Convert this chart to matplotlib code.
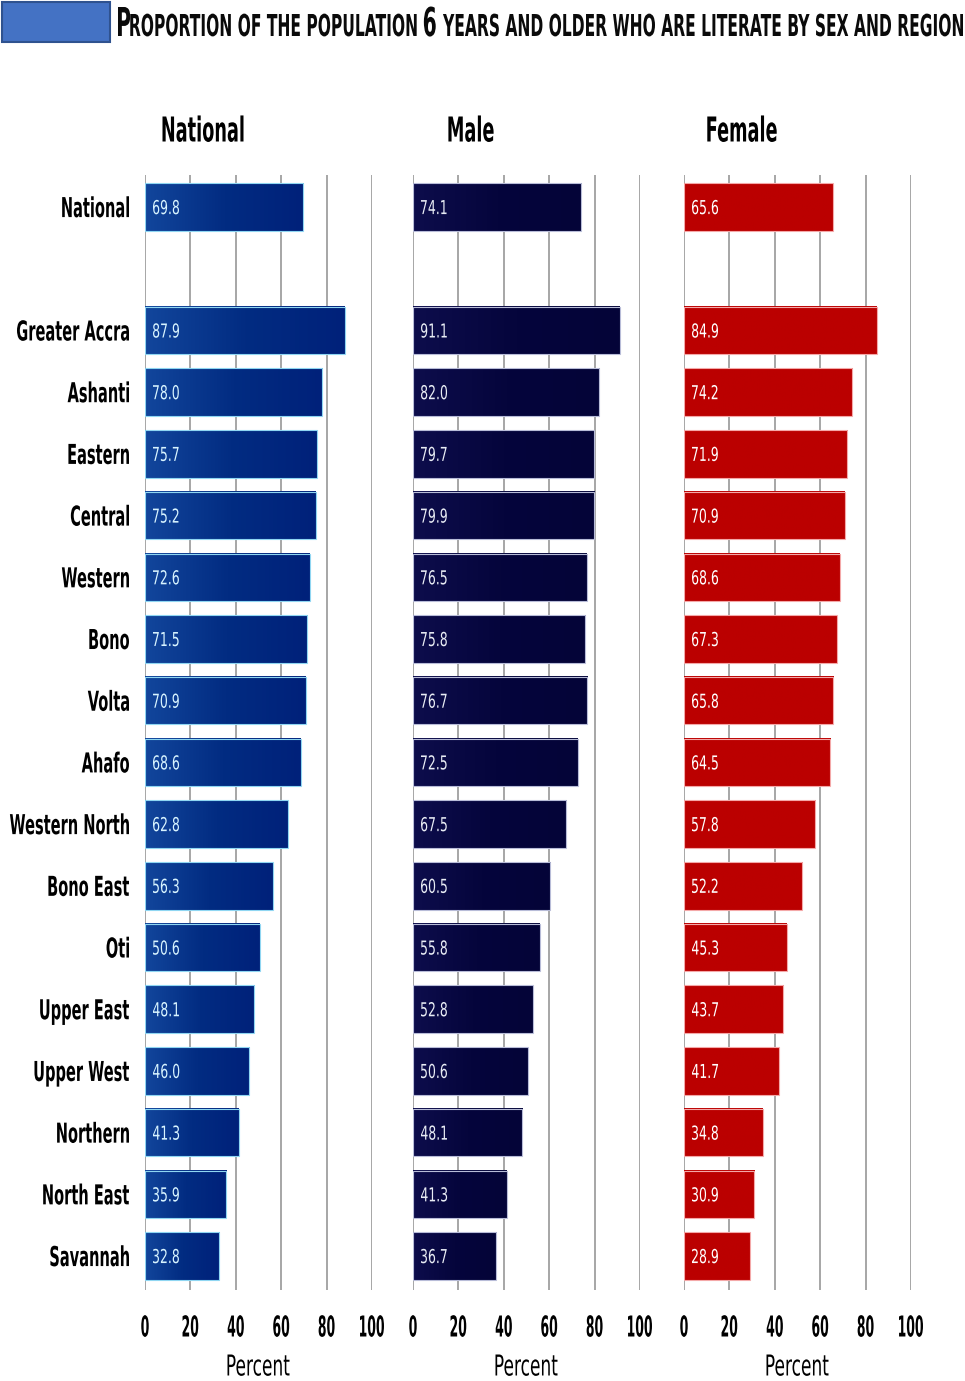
import numpy as np
import matplotlib.pyplot as plt
from matplotlib.colors import LinearSegmentedColormap
from matplotlib.patches import Rectangle, PathPatch
from matplotlib.textpath import TextPath
from matplotlib.font_manager import FontProperties
from matplotlib.transforms import Affine2D

# literacy rates, population aged 6+
regions = ["National", "Greater Accra", "Ashanti", "Eastern", "Central", "Western",
           "Bono", "Volta", "Ahafo", "Western North", "Bono East", "Oti",
           "Upper East", "Upper West", "Northern", "North East", "Savannah"]
national = [69.8, 87.9, 78.0, 75.7, 75.2, 72.6, 71.5, 70.9, 68.6, 62.8, 56.3, 50.6,
            48.1, 46.0, 41.3, 35.9, 32.8]
male = [74.1, 91.1, 82.0, 79.7, 79.9, 76.5, 75.8, 76.7, 72.5, 67.5, 60.5, 55.8,
        52.8, 50.6, 48.1, 41.3, 36.7]
female = [65.6, 84.9, 74.2, 71.9, 70.9, 68.6, 67.3, 65.8, 64.5, 57.8, 52.2, 45.3,
          43.7, 41.7, 34.8, 30.9, 28.9]
panel_titles = ["National", "Male", "Female"]
xticks = [0, 20, 40, 60, 80, 100]

W, H = 965, 1381
fig = plt.figure(figsize=(W / 100, H / 100), dpi=100)

FAMILY = "DejaVu Sans"


def _path(s, weight):
    fp = FontProperties(family=FAMILY, weight=weight)
    tp = TextPath((0, 0), s, size=100, prop=fp)
    cap = TextPath((0, 0), "H", size=100, prop=fp).get_extents().height
    return tp, cap


def ink_width(s, cap, weight="normal"):
    tp, hcap = _path(s, weight)
    ext = tp.get_extents()
    return (ext.x1 - ext.x0) * cap / hcap


def ctext(x, y, s, cap, sx, ha="left", weight="normal", color="black", z=10):
    """Condensed text drawn as a path. x, y in pixels from the top-left,
    y is the middle of the capital height."""
    tp, hcap = _path(s, weight)
    k = cap / hcap
    ext = tp.get_extents()
    if ha == "left":
        dx = x - ext.x0 * k * sx
    elif ha == "right":
        dx = x - ext.x1 * k * sx
    else:
        dx = x - (ext.x0 + ext.x1) / 2 * k * sx
    dy = (H - y) - cap / 2
    p = PathPatch(tp, transform=Affine2D().scale(k * sx, k).translate(dx, dy),
                  facecolor=color, edgecolor="none", lw=0, zorder=z)
    fig.add_artist(p)
    return (ext.x1 - ext.x0) * k * sx


# row positions: national row on top, a blank slot, then the regions
ypos = np.array([0] + list(range(2, 2 + len(regions) - 1)))

panels = [
    (national, 145, ["#12469c", "#022c82", "#00217a"], "#8fd6f2", "#d8f4ff"),
    (male, 413, ["#0d0d4c", "#05053c", "#040438"], "#b8bcd8", "#e8ecf4"),
    (female, 684, ["#bb0000", "#bb0000", "#bb0000"], "#f4a8a8", "#ffffff"),
]

ax_w = 227 / W
ax_bottom = 1 - 1290 / H
ax_h = (1290 - 175) / H
bar_h = 0.77

# condensing factors
sx_val = 26 / ink_width("69.8", 14)
sx_tick = 24 / ink_width("100", 21, "bold")
sx_pct = 62 / ink_width("Percent", 21)
sx_ptitle = 81 / ink_width("National", 25, "bold")
sx_reg = 112 / ink_width("Greater Accra", 20, "bold")

axes = []
for (vals, left_px, cols, edge, txtcol), ptitle in zip(panels, panel_titles):
    ax = fig.add_axes([left_px / W, ax_bottom, ax_w, ax_h])
    axes.append(ax)
    cmap = LinearSegmentedColormap.from_list("bar", cols)
    grad = np.linspace(0, 1, 256).reshape(1, -1)
    for y, v in zip(ypos, vals):
        ax.imshow(grad, cmap=cmap, aspect="auto", interpolation="bicubic",
                  extent=(0, v, y + bar_h / 2, y - bar_h / 2), zorder=2)
        ax.add_patch(Rectangle((0, y - bar_h / 2), v, bar_h, facecolor="none",
                               edgecolor=edge, linewidth=0.8, zorder=3))
    ax.set_xlim(0, 100)
    ax.set_ylim(17.55, -0.52)
    ax.set_xticks(xticks)
    ax.set_yticks([])
    ax.grid(axis="x", color="#a6a6a6", linewidth=1.4, zorder=0)
    ax.set_axisbelow(True)
    for s in ax.spines.values():
        s.set_visible(False)
    ax.tick_params(axis="x", length=0, labelbottom=False)

    # labels placed through the axes' own data transform
    def px(xv, yv, ax=ax):
        dx, dy = ax.transData.transform((xv, yv))
        return dx, H - dy

    for y, v in zip(ypos, vals):
        x0, yc = px(0, y)
        ctext(x0 + 8, yc, f"{v:.1f}", 14, sx_val, color=txtcol)
    for t in xticks:
        tx, _ = px(t, 0)
        ctext(tx, 1326, str(t), 21, sx_tick, ha="center", weight="bold")
    xl, _ = px(0, 0)
    xr, _ = px(100, 0)
    ctext((xl + xr) / 2, 1365, "Percent", 21, sx_pct, ha="center")
    ctext(xl + 58, 129, ptitle, 25, sx_ptitle, ha="center", weight="bold")

# region names beside the first panel
for y, name in zip(ypos, regions):
    x0, yc = axes[0].transData.transform((0, y))
    ctext(x0 - 16, H - yc, name, 20, sx_reg, ha="right", weight="bold")

# header box and small-caps title
fig.patches.append(Rectangle((2 / W, 1 - 42 / H), 108 / W, 40 / H,
                             transform=fig.transFigure, facecolor="#4472c4",
                             edgecolor="#2f528f", linewidth=1.5))

title_parts = [("P", 29), ("ROPORTION OF THE POPULATION", 22), (" ", 0),
               ("6", 29), (" ", 0),
               ("YEARS AND OLDER WHO ARE LITERATE BY SEX AND REGION", 22)]
gap = 14
natural = sum(ink_width(t, c, "bold") if c else gap for t, c in title_parts)
sx_title = 845 / natural
x = 118
for t, c in title_parts:
    if not c:
        x += gap * sx_title
        continue
    # pieces share one baseline at y=36
    x += ctext(x, 36 - c / 2, t, c, sx_title, weight="bold", color="#0a0a0a")

fig.savefig("out.png", dpi=100, facecolor="white")
